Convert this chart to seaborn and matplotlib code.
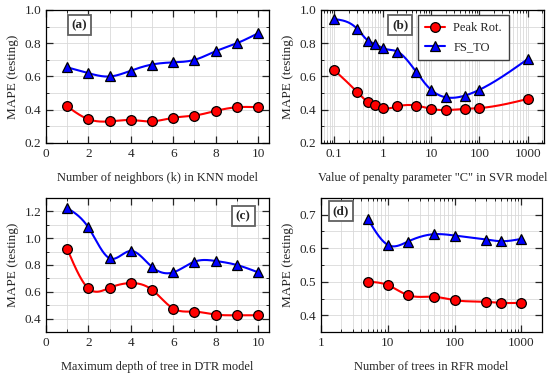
import numpy as np
import pandas as pd
import matplotlib
matplotlib.use("Agg")
import matplotlib.pyplot as plt
import seaborn as sns
from matplotlib.ticker import MultipleLocator

# data
knn_k = [1, 2, 3, 4, 5, 6, 7, 8, 9, 10]
knn_peak = [0.420, 0.343, 0.330, 0.338, 0.330, 0.352, 0.365, 0.393, 0.415, 0.415]
knn_fs = [0.655, 0.620, 0.600, 0.635, 0.672, 0.685, 0.700, 0.752, 0.800, 0.860]

svr_c = [0.1, 0.3, 0.5, 0.7, 1, 2, 5, 10, 20, 50, 100, 1000]
svr_peak = [0.638, 0.505, 0.447, 0.430, 0.410, 0.420, 0.425, 0.405, 0.398, 0.405, 0.410, 0.465]
svr_fs = [0.945, 0.885, 0.815, 0.795, 0.770, 0.750, 0.625, 0.520, 0.475, 0.485, 0.520, 0.705]

dtr_depth = [1, 2, 3, 4, 5, 6, 7, 8, 9, 10]
dtr_peak = [0.920, 0.625, 0.630, 0.665, 0.615, 0.475, 0.452, 0.430, 0.425, 0.425]
dtr_fs = [1.225, 1.080, 0.850, 0.905, 0.785, 0.745, 0.825, 0.830, 0.800, 0.745]

rfr_trees = [5, 10, 20, 50, 100, 300, 500, 1000]
rfr_peak = [0.500, 0.490, 0.460, 0.455, 0.445, 0.440, 0.437, 0.437]
rfr_fs = [0.688, 0.610, 0.620, 0.642, 0.638, 0.626, 0.621, 0.628]

sns.set_style("ticks")
plt.rcParams['font.family'] = ['Liberation Serif', 'DejaVu Serif']
plt.rcParams['font.size'] = 9.5


def spline(x, y, logx=False, num=300):
    # natural cubic spline through the points, only used to draw the connecting curve
    x = np.log10(x) if logx else np.asarray(x, float)
    y = np.asarray(y, float)
    n = len(x)
    h = np.diff(x)
    A = np.zeros((n, n))
    b = np.zeros(n)
    A[0, 0] = A[-1, -1] = 1
    for i in range(1, n - 1):
        A[i, i - 1] = h[i - 1]
        A[i, i] = 2 * (h[i - 1] + h[i])
        A[i, i + 1] = h[i]
        b[i] = 3 * ((y[i + 1] - y[i]) / h[i] - (y[i] - y[i - 1]) / h[i - 1])
    c = np.linalg.solve(A, b)
    xs = np.linspace(x[0], x[-1], num)
    idx = np.clip(np.searchsorted(x, xs) - 1, 0, n - 2)
    dx = xs - x[idx]
    bb = (y[1:] - y[:-1]) / h - h * (2 * c[:-1] + c[1:]) / 3
    dd = (c[1:] - c[:-1]) / (3 * h)
    ys = y[idx] + bb[idx] * dx + c[idx] * dx ** 2 + dd[idx] * dx ** 3
    if logx:
        xs = 10 ** xs
    return xs, ys


def draw(ax, x, peak, fs, logx=False):
    for vals, col, mk, lab in [(peak, '#ff0000', 'o', 'Peak Rot.'), (fs, '#0000ff', '^', 'FS_TO')]:
        xs, ys = spline(x, vals, logx)
        sns.lineplot(x=xs, y=ys, ax=ax, color=col, lw=1.5, sort=False, estimator=None,
                     legend=False)
        ax.plot(x, vals, ls='-', lw=1.5, color=col, marker=mk,
                ms=7 if mk == 'o' else 6.5, mfc=col, mec='black', mew=0.9, label=lab)
        # markers only on top of the smooth curve
        ax.lines[-1].set_linestyle('none')


def style(ax, tag, pos, xlabel):
    ax.grid(which='both', color='#d9d9d9', lw=0.6)
    ax.set_axisbelow(True)
    ax.tick_params(which='both', direction='in', top=True, right=True, labelsize=9.5)
    ax.tick_params(which='major', length=5, width=0.9)
    ax.tick_params(which='minor', length=2.5, width=0.7)
    for s in ax.spines.values():
        s.set_linewidth(0.9)
        s.set_color('black')
    ax.set_ylabel("MAPE (testing)", fontsize=9.5)
    ax.set_xlabel(xlabel, fontsize=8.9, labelpad=9)
    ax.text(pos[0], pos[1], tag, transform=ax.transAxes, ha='center', va='center',
            fontsize=9.5, fontweight='bold',
            bbox=dict(boxstyle='square,pad=0.3', fc='white', ec='#606060', lw=1.3))


fig = plt.figure(figsize=(5.5, 3.79), dpi=100)
ax_a = fig.add_axes([0.0836, 0.6227, 0.405, 0.351])
ax_b = fig.add_axes([0.5836, 0.6227, 0.405, 0.351])
ax_c = fig.add_axes([0.0836, 0.124, 0.405, 0.3536])
ax_d = fig.add_axes([0.5836, 0.124, 0.401, 0.3536])

# (a) KNN
draw(ax_a, knn_k, knn_peak, knn_fs)
ax_a.set_xlim(0, 10.5)
ax_a.set_ylim(0.2, 1.0)
ax_a.xaxis.set_major_locator(MultipleLocator(2))
ax_a.xaxis.set_minor_locator(MultipleLocator(1))
ax_a.yaxis.set_major_locator(MultipleLocator(0.2))
ax_a.yaxis.set_minor_locator(MultipleLocator(0.1))
style(ax_a, "(a)", (0.15, 0.885), "Number of neighbors (k) in KNN model")

# (b) SVR
draw(ax_b, svr_c, svr_peak, svr_fs, logx=True)
ax_b.set_xscale('log')
ax_b.set_xlim(0.053, 2140)
ax_b.set_ylim(0.2, 1.0)
ax_b.set_xticks([0.1, 1, 10, 100, 1000])
ax_b.set_xticklabels(["0.1", "1", "10", "100", "1000"])
ax_b.yaxis.set_major_locator(MultipleLocator(0.2))
ax_b.yaxis.set_minor_locator(MultipleLocator(0.1))
style(ax_b, "(b)", (0.355, 0.885), 'Value of penalty parameter "C" in SVR model')
handles = ax_b.lines[1::2]
leg = ax_b.legend(handles=handles, labels=['Peak Rot.', 'FS_TO'], loc='upper right',
                  bbox_to_anchor=(0.855, 0.98), fontsize=9, frameon=True,
                  fancybox=False, edgecolor='#404040', framealpha=1, handlelength=1.6,
                  borderpad=0.55, labelspacing=0.6, handletextpad=0.7, borderaxespad=0.2)
leg.get_frame().set_linewidth(1.0)
for ln, col in zip(leg.get_lines(), ['#ff0000', '#0000ff']):
    ln.set_linestyle('-')
    ln.set_color(col)
    ln.set_markeredgecolor('black')
    ln.set_linewidth(1.5)

# (c) DTR
draw(ax_c, dtr_depth, dtr_peak, dtr_fs)
ax_c.set_xlim(0, 10.5)
ax_c.set_ylim(0.3, 1.3)
ax_c.xaxis.set_major_locator(MultipleLocator(2))
ax_c.xaxis.set_minor_locator(MultipleLocator(1))
ax_c.yaxis.set_minor_locator(MultipleLocator(0.1))
ax_c.set_yticks([0.4, 0.6, 0.8, 1.0, 1.2])
style(ax_c, "(c)", (0.885, 0.865), "Maximum depth of tree in DTR model")

# (d) RFR
draw(ax_d, rfr_trees, rfr_peak, rfr_fs, logx=True)
ax_d.set_xscale('log')
ax_d.set_xlim(1, 2000)
ax_d.set_ylim(0.35, 0.75)
ax_d.set_xticks([1, 10, 100, 1000])
ax_d.set_xticklabels(["1", "10", "100", "1000"])
ax_d.yaxis.set_minor_locator(MultipleLocator(0.05))
ax_d.set_yticks([0.4, 0.5, 0.6, 0.7])
style(ax_d, "(d)", (0.09, 0.9), "Number of trees in RFR model")

fig.savefig("out.png", dpi=100)
